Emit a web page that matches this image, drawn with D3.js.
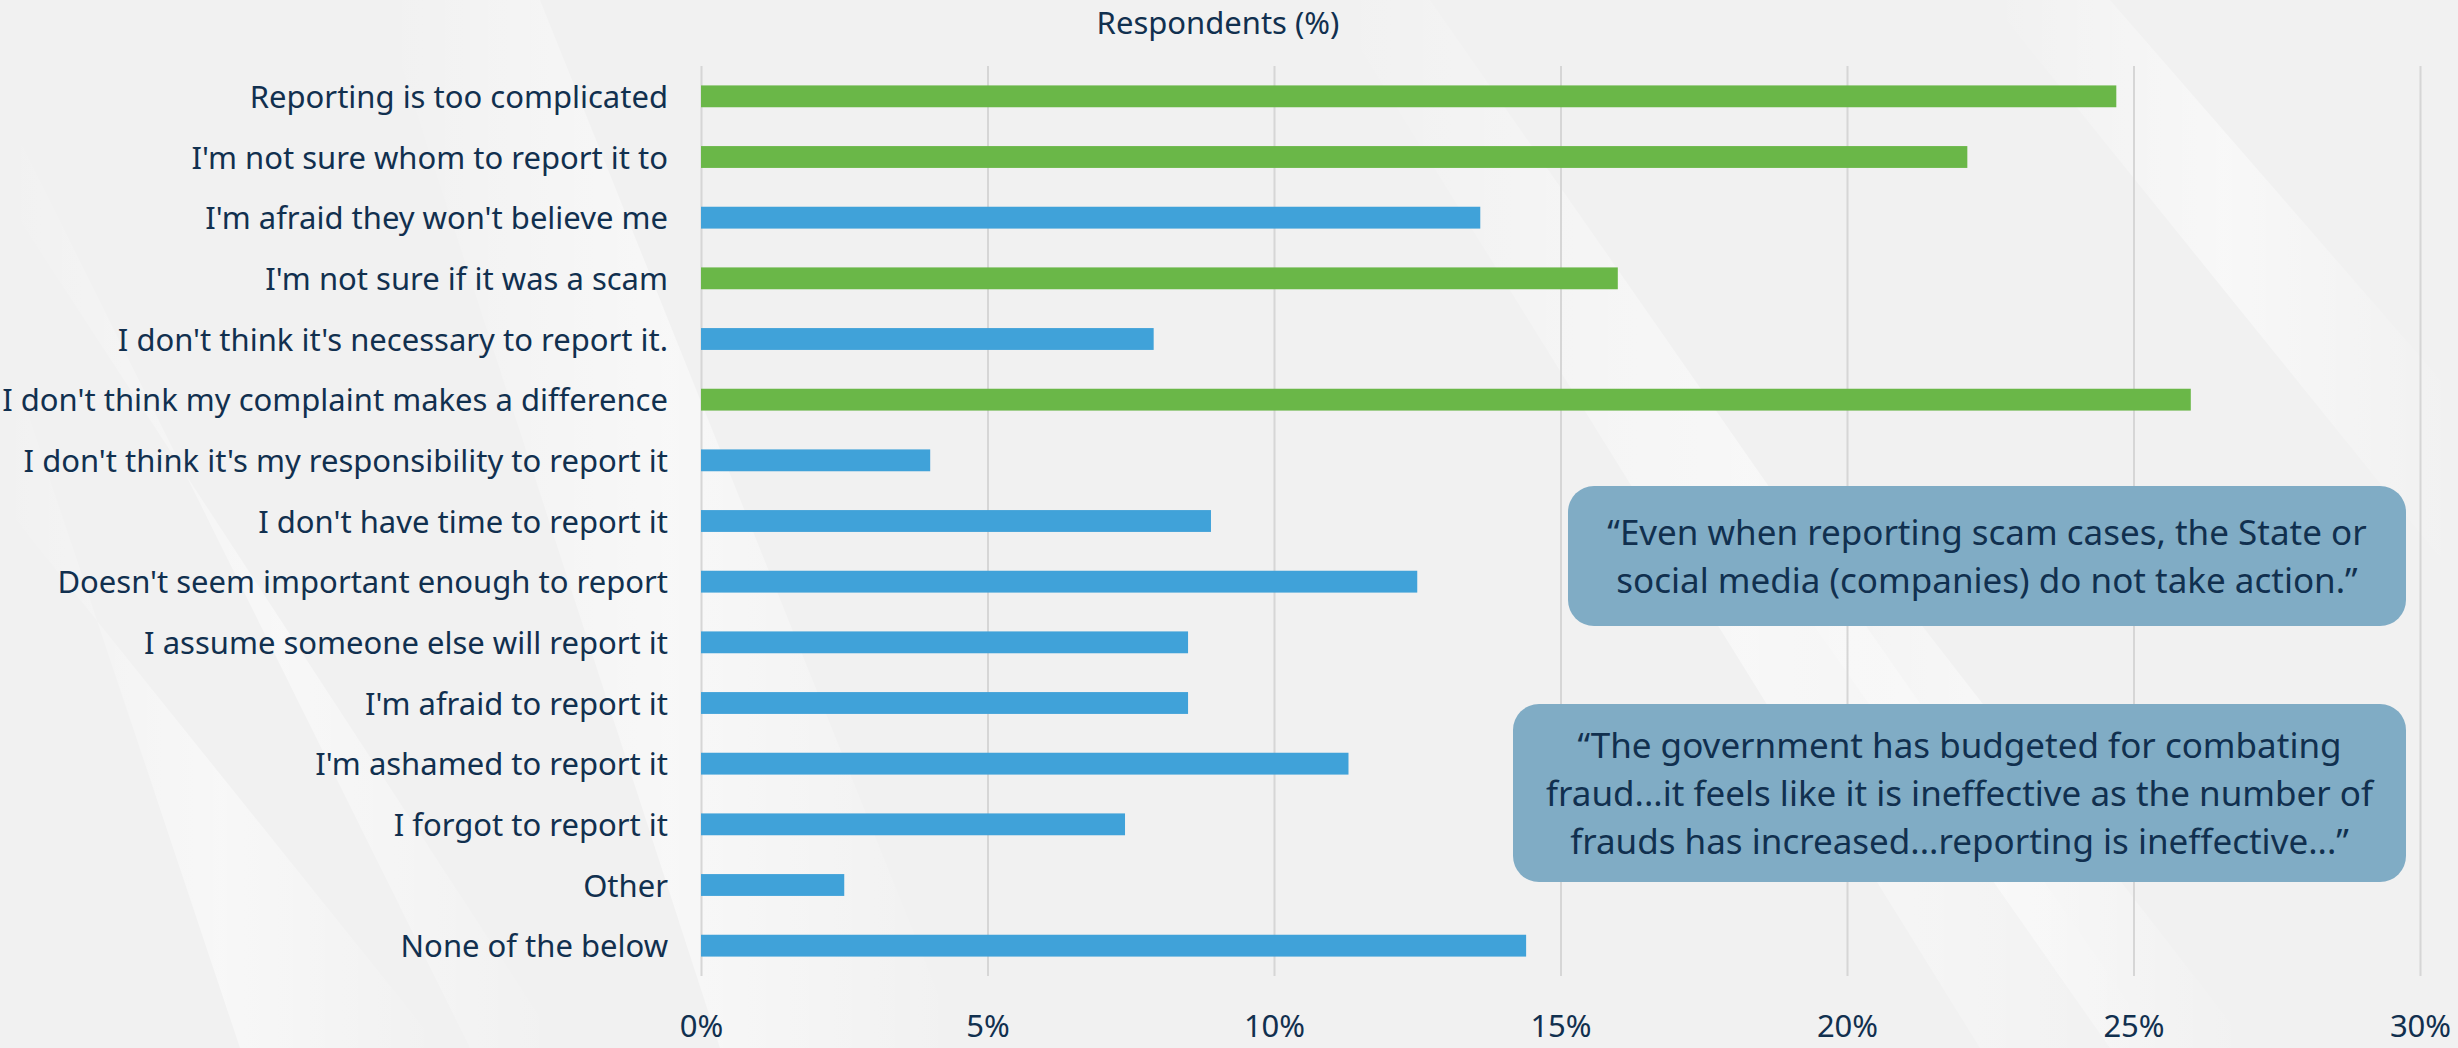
<!DOCTYPE html>
<html>
<head>
<meta charset="utf-8">
<script src="https://cdn.jsdelivr.net/npm/d3@7/dist/d3.min.js"></script>
<style>
  body { margin: 0; background: #f2f2f2; overflow: hidden; }
  text { font-family: "Noto Sans", sans-serif; fill: #11304f; }
</style>
</head>
<body>
<div id="chart"></div>
<script>

var categories = [
  "Reporting is too complicated",
  "I'm not sure whom to report it to",
  "I'm afraid they won't believe me",
  "I'm not sure if it was a scam",
  "I don't think it's necessary to report it.",
  "I don't think my complaint makes a difference",
  "I don't think it's my responsibility to report it",
  "I don't have time to report it",
  "Doesn't seem important enough to report",
  "I assume someone else will report it",
  "I'm afraid to report it",
  "I'm ashamed to report it",
  "I forgot to report it",
  "Other",
  "None of the below"
];
var values = [24.7, 22.1, 13.6, 16.0, 7.9, 26.0, 4.0, 8.9, 12.5, 8.5, 8.5, 11.3, 7.4, 2.5, 14.4];
// answers drawn in green
var highlighted = [
  "Reporting is too complicated",
  "I'm not sure whom to report it to",
  "I'm not sure if it was a scam",
  "I don't think my complaint makes a difference"
];
var tickValues = [0, 5, 10, 15, 20, 25, 30];
var axisTitle = "Respondents (%)";
var quote1 = ["\u201cEven when reporting scam cases, the State or", "social media (companies) do not take action.\u201d"];
var quote2 = ["\u201cThe government has budgeted for combating", "fraud...it feels like it is ineffective as the number of", "frauds has increased...reporting is ineffective...\u201d"];

var width = 2458;
var height = 1048;
var margin = {top: 66, right: 38, bottom: 72, left: 701};
var innerW = width - margin.left - margin.right;
var innerH = height - margin.top - margin.bottom;

var svg = d3.select("#chart")
  .append("svg")
  .attr("width", width)
  .attr("height", height);

// background with soft white streaks
var defs = svg.append("defs");
var grad = defs.append("linearGradient")
  .attr("id", "streak")
  .attr("x1", "0").attr("y1", "0").attr("x2", "1").attr("y2", "0");
grad.append("stop").attr("offset", "0%").attr("stop-color", "#fff").attr("stop-opacity", 0);
grad.append("stop").attr("offset", "50%").attr("stop-color", "#fff").attr("stop-opacity", 0.8);
grad.append("stop").attr("offset", "100%").attr("stop-color", "#fff").attr("stop-opacity", 0);

svg.append("rect").attr("width", width).attr("height", height).attr("fill", "#f1f1f1");

var streaks = [
  [[380, 0], [540, 0], [960, 1048], [720, 1048]],
  [[0, 330], [0, 500], [440, 1048], [240, 1048]],
  [[1990, 0], [2110, 0], [2458, 400], [2458, 580]],
  [[1330, 0], [1430, 0], [2160, 1048], [1980, 1048]],
  [[0, 100], [0, 190], [560, 1048], [470, 1048]],
  [[1740, 520], [1840, 520], [2250, 1048], [2110, 1048]]
];
svg.append("g").selectAll("polygon")
  .data(streaks)
  .enter()
  .append("polygon")
  .attr("points", function(d) { return d.join(" "); })
  .attr("fill", "url(#streak)")
  .attr("opacity", 0.6);

var g = svg.append("g")
  .attr("transform", "translate(" + margin.left + "," + margin.top + ")");

var xScale = d3.scaleLinear()
  .domain([0, 30])
  .range([0, innerW]);

var yScale = d3.scaleBand()
  .domain(categories)
  .range([0, innerH])
  .paddingInner(0.64)
  .paddingOuter(0.32);

// gridlines
g.append("g")
  .attr("class", "grid")
  .call(d3.axisBottom(xScale).tickValues(tickValues).tickSize(innerH).tickFormat(""))
  .call(function(s) { s.select(".domain").remove(); })
  .selectAll("line")
  .attr("stroke", "#d6d6d6")
  .attr("stroke-width", 2);

g.append("g")
  .attr("class", "axis axis--x")
  .attr("transform", "translate(0," + innerH + ")")
  .call(d3.axisBottom(xScale).tickValues(tickValues).tickSize(0).tickPadding(39)
    .tickFormat(function(d) { return d + "%"; }))
  .call(function(s) { s.select(".domain").remove(); })
  .selectAll("text")
  .attr("font-size", 31)
  .style("font-family", "'Noto Sans', sans-serif")
  .attr("fill", "#11304f");

g.append("g")
  .attr("class", "axis axis--y")
  .call(d3.axisLeft(yScale).tickSize(0).tickPadding(33))
  .call(function(s) { s.select(".domain").remove(); })
  .selectAll("text")
  .attr("font-size", 31)
  .attr("dy", "0.38em")
  .style("font-family", "'Noto Sans', sans-serif")
  .attr("fill", "#11304f");

g.selectAll(".bar")
  .data(values)
  .enter()
  .append("rect")
  .attr("class", "bar")
  .attr("x", 0)
  .attr("y", function(d, i) { return yScale(categories[i]); })
  .attr("width", function(d) { return xScale(d); })
  .attr("height", yScale.bandwidth())
  .attr("fill", function(d, i) {
    return highlighted.indexOf(categories[i]) >= 0 ? "#6ab748" : "#40a2d9";
  });

svg.append("text")
  .attr("x", 1218)
  .attr("y", 34)
  .attr("text-anchor", "middle")
  .attr("font-size", 31)
  .text(axisTitle);

// quote boxes, one text element per box with a tspan per line
function quoteBox(lines, x0, y0, x1, y1, lineGap) {
  var q = svg.append("g");
  q.append("rect")
    .attr("x", x0).attr("y", y0)
    .attr("width", x1 - x0).attr("height", y1 - y0)
    .attr("rx", 26)
    .attr("fill", "#80acc5");
  var cy = (y0 + y1) / 2;
  var cx = (x0 + x1) / 2;
  q.append("text")
    .attr("text-anchor", "middle")
    .attr("font-size", 35)
    .selectAll("tspan")
    .data(lines)
    .enter()
    .append("tspan")
    .attr("x", cx)
    .attr("y", function(d, i) { return cy + (i - (lines.length - 1) / 2) * lineGap + 13; })
    .text(function(d) { return d; });
}
quoteBox(quote1, 1568, 486, 2406, 626, 48);
quoteBox(quote2, 1513, 704, 2406, 882, 48);

</script>
</body>
</html>
